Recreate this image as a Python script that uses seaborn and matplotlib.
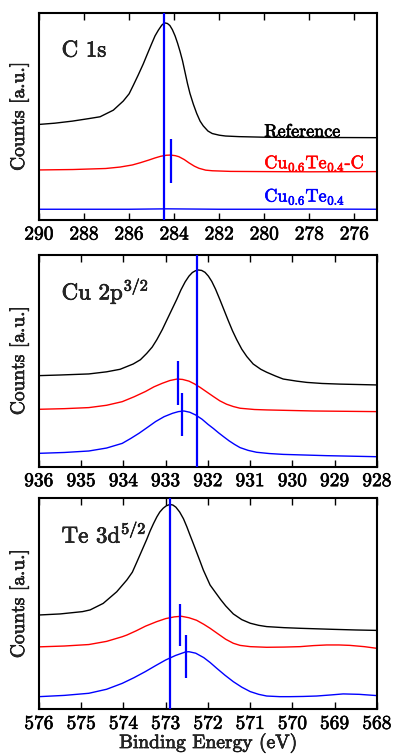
import matplotlib
matplotlib.use("Agg")
import matplotlib.pyplot as plt
import matplotlib.patheffects as pe
import pandas as pd
import seaborn as sns

# ---------------------------------------------------------------- data
samples = ["Reference", "Cu$_{0.6}$Te$_{0.4}$-C", "Cu$_{0.6}$Te$_{0.4}$"]
colors = ["black", "#ff0000", "#0000ff"]

# C 1s region (binding energy in eV, normalised counts)
c1s_ref_e = [290, 289.3, 288.52, 287.8, 287.29, 286.7, 286.26, 286.0, 285.81, 285.6,
             285.37, 285.2, 285.0, 284.85, 284.7, 284.55, 284.43, 284.3, 284.19, 284.08,
             283.96, 283.85, 283.74, 283.63, 283.52, 283.41, 283.3, 283.15, 283.0,
             282.85, 282.71, 282.5, 282.31, 282.0, 281.72, 281.12, 279.9, 277.5, 275]
c1s_ref_i = [0.462, 0.468, 0.478, 0.490, 0.499, 0.531, 0.575, 0.610, 0.652, 0.700,
             0.755, 0.800, 0.852, 0.890, 0.918, 0.942, 0.953, 0.950, 0.940, 0.920,
             0.890, 0.855, 0.815, 0.770, 0.715, 0.660, 0.612, 0.560, 0.515,
             0.478, 0.455, 0.430, 0.418, 0.410, 0.406, 0.403, 0.400, 0.399, 0.398]
c1s_cte_e = [290, 288.5, 287.04, 286.4, 285.86, 285.5, 285.12, 284.85, 284.6, 284.35,
             284.16, 283.95, 283.79, 283.55, 283.34, 283.1, 282.9, 282.6, 282.3, 281.5,
             280, 278, 275]
c1s_cte_i = [0.242, 0.244, 0.249, 0.256, 0.266, 0.277, 0.290, 0.300, 0.308, 0.313,
             0.314, 0.311, 0.306, 0.292, 0.276, 0.260, 0.250, 0.241, 0.238, 0.235,
             0.234, 0.233, 0.234]
c1s_ct_e = [290, 288, 286, 284.3, 282, 280, 278, 275]
c1s_ct_i = [0.052, 0.052, 0.052, 0.054, 0.052, 0.052, 0.053, 0.052]

# Cu 2p3/2 region
cu_ref_e = [936, 935.5, 934.82, 934.4, 934.08, 933.77, 933.6, 933.45, 933.32, 933.21,
            933.08, 932.98, 932.86, 932.74, 932.64, 932.54, 932.45, 932.37, 932.3, 932.23,
            932.15, 932.07, 931.99, 931.91, 931.82, 931.72, 931.62, 931.52, 931.42,
            931.32, 931.2, 931.08, 930.93, 930.75, 930.61, 930.4, 930.22, 929.9, 929.66,
            929.3, 928.88, 928]
cu_ref_i = [0.430, 0.433, 0.438, 0.448, 0.460, 0.485, 0.505, 0.535, 0.565, 0.600,
            0.648, 0.690, 0.740, 0.790, 0.835, 0.873, 0.900, 0.917, 0.925, 0.929,
            0.927, 0.918, 0.900, 0.875, 0.838, 0.790, 0.740, 0.690, 0.642,
            0.600, 0.555, 0.520, 0.485, 0.460, 0.446, 0.428, 0.414, 0.404, 0.398,
            0.393, 0.390, 0.386]
cu_cte_e = [936, 935.4, 934.82, 934.4, 934.03, 933.75, 933.48, 933.28, 933.08, 932.9,
            932.73, 932.6, 932.45, 932.32, 932.19, 932.03, 931.87, 931.72, 931.56, 931.4,
            931.24, 930.9, 930.61, 929.5, 928]
cu_cte_i = [0.271, 0.274, 0.279, 0.290, 0.307, 0.330, 0.355, 0.377, 0.394, 0.407,
            0.414, 0.412, 0.404, 0.391, 0.375, 0.353, 0.331, 0.311, 0.295, 0.284,
            0.276, 0.270, 0.268, 0.263, 0.260]
cu_ct_e = [936, 935.4, 934.82, 934.4, 934.03, 933.83, 933.63, 933.43, 933.24, 933.04,
           932.84, 932.7, 932.57, 932.43, 932.29, 932.14, 932.0, 931.87, 931.75, 931.62,
           931.5, 931.37, 931.24, 931.05, 930.85, 930.55, 930.22, 929.2, 928]
cu_ct_i = [0.063, 0.067, 0.074, 0.088, 0.110, 0.133, 0.158, 0.186, 0.213, 0.236,
           0.252, 0.260, 0.263, 0.257, 0.244, 0.224, 0.200, 0.180, 0.160, 0.140,
           0.122, 0.105, 0.090, 0.077, 0.068, 0.062, 0.058, 0.052, 0.047]

# Te 3d5/2 region
te_ref_e = [576, 575.5, 574.97, 574.79, 574.48, 574.16, 573.92, 573.79, 573.69, 573.57,
            573.45, 573.37, 573.29, 573.21, 573.14, 573.06, 572.99, 572.9, 572.83, 572.76,
            572.67, 572.58, 572.5, 572.43, 572.35, 572.27, 572.19, 572.11, 571.95, 571.82,
            571.7, 571.58, 571.4, 571.2, 571.0, 570.8, 570.61, 570.2, 569.82, 569.03,
            568.5, 568]
te_ref_i = [0.447, 0.452, 0.463, 0.471, 0.502, 0.557, 0.613, 0.650, 0.695, 0.750,
            0.805, 0.845, 0.880, 0.912, 0.935, 0.953, 0.964, 0.971, 0.968, 0.958,
            0.935, 0.903, 0.865, 0.828, 0.787, 0.745, 0.703, 0.660, 0.589, 0.553,
            0.520, 0.490, 0.452, 0.425, 0.408, 0.398, 0.392, 0.387, 0.384, 0.379,
            0.376, 0.374]
te_cte_e = [576, 575.4, 574.82, 574.4, 574.03, 573.92, 573.7, 573.48, 573.22, 573.0,
            572.8, 572.63, 572.45, 572.27, 572.1, 571.95, 571.78, 571.58, 571.4, 571.24,
            571.0, 570.61, 570.2, 569.82, 569.5, 569.19, 568.9, 568.64, 568.3, 568]
te_cte_i = [0.296, 0.300, 0.307, 0.322, 0.344, 0.352, 0.372, 0.394, 0.415, 0.430,
            0.438, 0.441, 0.434, 0.422, 0.403, 0.384, 0.360, 0.332, 0.313, 0.303,
            0.297, 0.294, 0.295, 0.297, 0.302, 0.305, 0.305, 0.303, 0.297, 0.289]
te_ct_e = [576, 575.4, 574.82, 574.4, 574.03, 573.75, 573.48, 573.24, 573.0, 572.77,
           572.53, 572.45, 572.29, 572.1, 571.95, 571.79, 571.6, 571.4, 571.2, 571.0,
           570.8, 570.61, 570.3, 570.06, 569.75, 569.43, 569.1, 568.8, 568.42, 568]
te_ct_i = [0.060, 0.066, 0.076, 0.095, 0.123, 0.150, 0.179, 0.207, 0.234, 0.255,
           0.272, 0.273, 0.266, 0.245, 0.222, 0.194, 0.162, 0.131, 0.105, 0.084,
           0.071, 0.063, 0.060, 0.060, 0.061, 0.063, 0.068, 0.073, 0.071, 0.065]

# reference peak position (full-height line) and sample peak markers
c1s_ref_peak = 284.43
c1s_marks_e = [284.15]
c1s_marks_lo = [0.18]
c1s_marks_hi = [0.39]

cu_ref_peak = 932.26
cu_marks_e = [932.72, 932.62]
cu_marks_lo = [0.29, 0.145]
cu_marks_hi = [0.50, 0.35]

te_ref_peak = 572.9
te_marks_e = [572.66, 572.51]
te_marks_lo = [0.30, 0.147]
te_marks_hi = [0.50, 0.352]

c1s_ticks = [290, 288, 286, 284, 282, 280, 278, 276]
cu_ticks = [936, 935, 934, 933, 932, 931, 930, 929, 928]
te_ticks = [576, 575, 574, 573, 572, 571, 570, 569, 568]

# ---------------------------------------------------------------- style
sns.set_theme(style="ticks")
plt.rcParams["font.family"] = ["cmr10", "DejaVu Serif"]
plt.rcParams["mathtext.fontset"] = "cm"
plt.rcParams["axes.formatter.use_mathtext"] = True
plt.rcParams["axes.unicode_minus"] = False


def frame(curves):
    rows = []
    for name, (e, i) in zip(samples, curves):
        rows.append(pd.DataFrame({"energy": e, "counts": i, "sample": name}))
    return pd.concat(rows, ignore_index=True)


def heavy(color):
    # slightly thicker glyph strokes
    return [pe.withStroke(linewidth=0.45, foreground=color)]


panels = [
    dict(df=frame([(c1s_ref_e, c1s_ref_i), (c1s_cte_e, c1s_cte_i), (c1s_ct_e, c1s_ct_i)]),
         xlim=(290, 275), ticks=c1s_ticks, title="C 1s", ref=c1s_ref_peak,
         me=c1s_marks_e, mlo=c1s_marks_lo, mhi=c1s_marks_hi, labels=True),
    dict(df=frame([(cu_ref_e, cu_ref_i), (cu_cte_e, cu_cte_i), (cu_ct_e, cu_ct_i)]),
         xlim=(936, 928), ticks=cu_ticks, title="Cu 2p$^{3/2}$", ref=cu_ref_peak,
         me=cu_marks_e, mlo=cu_marks_lo, mhi=cu_marks_hi, labels=False),
    dict(df=frame([(te_ref_e, te_ref_i), (te_cte_e, te_cte_i), (te_ct_e, te_ct_i)]),
         xlim=(576, 568), ticks=te_ticks, title="Te 3d$^{5/2}$", ref=te_ref_peak,
         me=te_marks_e, mlo=te_marks_lo, mhi=te_marks_hi, labels=False),
]

fig = plt.figure(figsize=(3.93, 7.55), dpi=100)
boxes = [
    [0.0992, 0.7086, 0.860, 0.2740],
    [0.0992, 0.3819, 0.860, 0.2804],
    [0.0992, 0.0605, 0.860, 0.2795],
]
label_y = [0.403, 0.250, 0.089]

for box, p in zip(boxes, panels):
    ax = fig.add_axes(box)
    sns.lineplot(data=p["df"], x="energy", y="counts", hue="sample",
                 hue_order=samples, palette=colors, estimator=None, sort=True,
                 linewidth=1.0, legend=False, ax=ax)
    ax.axvline(p["ref"], color="#0000ff", lw=1.6, zorder=5)
    ax.vlines(p["me"], p["mlo"], p["mhi"], color="#0000ff", lw=1.6, zorder=5)

    ax.set_xlim(*p["xlim"])
    ax.set_ylim(0, 1)
    ax.set_xticks(p["ticks"])
    ax.set_xticklabels([str(t) for t in p["ticks"]])
    ax.set_yticks([])
    ax.tick_params(axis="x", direction="in", top=True, bottom=True,
                   length=5, width=1, labelsize=14, pad=4, colors="black")
    for lab in ax.get_xticklabels():
        lab.set_path_effects(heavy("black"))
    for s in ax.spines.values():
        s.set_linewidth(1.5)
        s.set_color("black")
    ax.set_xlabel("")
    ax.set_ylabel("Counts [a.u.]", fontsize=14, path_effects=heavy("black"))
    ax.yaxis.set_label_coords(-0.03, 0.5)
    ax.text(0.067, 0.79, p["title"], transform=ax.transAxes, fontsize=16.5,
            ha="left", va="baseline", path_effects=heavy("black"))

    if p["labels"]:
        for name, col, y in zip(samples, colors, label_y):
            ax.text(280.0, y, name, color=col, fontsize=13, ha="left",
                    va="baseline", path_effects=heavy(col))

ax.set_xlabel("Binding Energy (eV)", fontsize=14, path_effects=heavy("black"))
ax.xaxis.set_label_coords(0.5, -0.112)

fig.savefig("out.png", dpi=100)
